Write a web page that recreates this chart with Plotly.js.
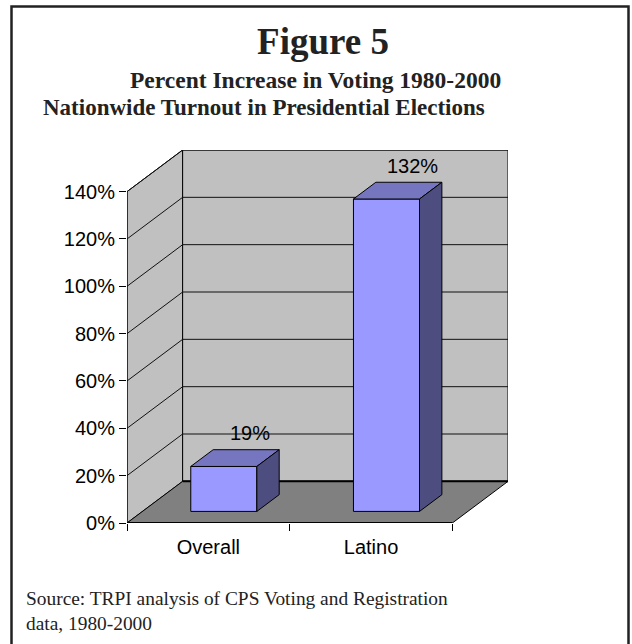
<!DOCTYPE html>
<html>
<head>
<meta charset="utf-8">
<script src="https://cdn.plot.ly/plotly-3.0.1.min.js"></script>
<style>
  html, body { margin: 0; padding: 0; background: #ffffff; }
  #chart { width: 632px; height: 644px; }
</style>
</head>
<body>
<div id="chart"></div>
<script>
// ---- data ----
const categories = ['Overall', 'Latino'];
const values = [19, 132];            // percent increase 1980-2000
const valueLabels = ['19%', '132%'];
const yTickValues = [0, 20, 40, 60, 80, 100, 120, 140];
const yTickText = ['0%', '20%', '40%', '60%', '80%', '100%', '120%', '140%'];
const yMax = 140;

// ---- 3D projection style (depth offsets in axis units) ----
const DEPTH_X = 0.342;   // horizontal depth shift, in category units
const DEPTH_Y = 17.6;    // vertical depth shift, in percent units
const BAR_W = 0.406;     // bar width, fraction of a category slot
const F0 = 0.278, F1 = 0.68; // bar front / back depth fractions

const n = categories.length;
const COLORS = {
  wall: '#c0c0c0', floor: '#808080', front: '#9999ff', top: '#7676c0', side: '#4d4d80',
  line: '#000000'
};

const M = { l: 127, r: 124, t: 150, b: 121 };
const FIG_W = 632, FIG_H = 644;
const PW = FIG_W - M.l - M.r, PH = FIG_H - M.t - M.b;
const paperX = px => (px - M.l) / PW;
const paperY = py => (FIG_H - M.b - py) / PH;

const traces = [];
function poly(pts, fill, lineColor, lineWidth) {
  const xs = pts.map(p => p[0]); xs.push(pts[0][0]);
  const ys = pts.map(p => p[1]); ys.push(pts[0][1]);
  traces.push({
    type: 'scatter', mode: 'lines', x: xs, y: ys,
    fill: 'toself', fillcolor: fill,
    line: { color: lineColor, width: lineWidth },
    hoverinfo: 'skip', showlegend: false
  });
}
function seg(x0, y0, x1, y1, color, width) {
  traces.push({
    type: 'scatter', mode: 'lines', x: [x0, x1], y: [y0, y1],
    line: { color: color, width: width }, hoverinfo: 'skip', showlegend: false
  });
}

const d = DEPTH_X, D = DEPTH_Y;
// side wall
poly([[0, 0], [d, D], [d, yMax + D], [0, yMax]], COLORS.wall, '#000', 1);
// back wall
poly([[d, D], [n + d, D], [n + d, yMax + D], [d, yMax + D]], COLORS.wall, '#000', 1);
// floor
poly([[0, 0], [n, 0], [n + d, D], [d, D]], COLORS.floor, '#000', 1);
// gridlines
yTickValues.forEach(v => {
  if (v === 0) return;
  seg(0, v, d, v + D, '#111', 1);
  seg(d, v + D, n + d, v + D, '#111', 1);
});
// floor edges & front axis line
seg(d, D, n + d, D, '#000', 2);
seg(0, 0, n, 0, '#000', 2);
seg(0, 0, 0, yMax, '#000', 1);

// bars
values.forEach((v, i) => {
  const xl = i + 0.5 - BAR_W / 2, xr = i + 0.5 + BAR_W / 2;
  const fx0 = F0 * d, fy0 = F0 * D, fx1 = F1 * d, fy1 = F1 * D;
  poly([[xl + fx0, fy0], [xr + fx0, fy0], [xr + fx0, v + fy0], [xl + fx0, v + fy0]], COLORS.front, '#000', 1);
  poly([[xl + fx0, v + fy0], [xr + fx0, v + fy0], [xr + fx1, v + fy1], [xl + fx1, v + fy1]], COLORS.top, '#000', 1);
  poly([[xr + fx0, fy0], [xr + fx1, fy1], [xr + fx1, v + fy1], [xr + fx0, v + fy0]], COLORS.side, '#000', 1);
});

const sansFont = { family: 'Liberation Sans, Arial, sans-serif', size: 20, color: '#000' };

const annotations = values.map((v, i) => ({
  x: i + 0.5 + F1 * d, y: v + D, xref: 'x', yref: 'y',
  text: valueLabels[i], showarrow: false, xanchor: 'center', yanchor: 'middle',
  xshift: 4, yshift: 3, font: sansFont
}));

annotations.push({
  xref: 'paper', yref: 'paper', x: paperX(315), y: paperY(80),
  text: 'Percent Increase in Voting 1980-2000', showarrow: false,
  xanchor: 'center', yanchor: 'middle',
  font: { family: 'Liberation Serif, serif', size: 23.5, color: '#222', weight: 'bold' }
});
annotations.push({
  xref: 'paper', yref: 'paper', x: paperX(264), y: paperY(108),
  text: 'Nationwide Turnout in Presidential Elections', showarrow: false,
  xanchor: 'center', yanchor: 'middle',
  font: { family: 'Liberation Serif, serif', size: 23, color: '#222', weight: 'bold' }
});
annotations.push({
  xref: 'paper', yref: 'paper', x: paperX(24), y: paperY(586),
  text: 'Source: TRPI analysis of CPS Voting and Registration<br>data, 1980-2000', showarrow: false,
  xanchor: 'left', yanchor: 'top', align: 'left',
  font: { family: 'Liberation Serif, serif', size: 19.4, color: '#222' }
});

const layout = {
  width: FIG_W, height: FIG_H,
  margin: M,
  paper_bgcolor: '#ffffff', plot_bgcolor: 'rgba(0,0,0,0)',
  showlegend: false,
  title: {
    text: 'Figure 5', x: 323 / FIG_W, xanchor: 'center', y: 1 - 41 / FIG_H, yanchor: 'middle',
    font: { family: 'Liberation Serif, serif', size: 37, color: '#222', weight: 'bold' }
  },
  xaxis: {
    range: [0, n + d], fixedrange: true,
    tickmode: 'array', tickvals: categories.map((c, i) => i + 0.5), ticktext: categories,
    ticks: '', showgrid: false, zeroline: false, showline: false,
    ticklabelstandoff: 10,
    tickfont: sansFont,
    minor: { tickmode: 'array', tickvals: categories.map((c, i) => i).concat([n]), ticks: 'outside', ticklen: 7, tickcolor: '#000', tickwidth: 1, showgrid: false }
  },
  yaxis: {
    range: [0, yMax + D], fixedrange: true,
    tickmode: 'array', tickvals: yTickValues, ticktext: yTickText,
    ticks: 'outside', ticklen: 7, tickcolor: '#000', tickwidth: 1,
    showgrid: false, zeroline: false, showline: false,
    tickfont: sansFont
  },
  annotations: annotations,
  shapes: [{
    type: 'rect', xref: 'paper', yref: 'paper',
    x0: paperX(11.5), x1: paperX(628.5), y0: paperY(6.5), y1: paperY(660),
    line: { color: '#222', width: 2.5 }, fillcolor: 'rgba(0,0,0,0)', layer: 'above'
  }]
};

Plotly.newPlot('chart', traces, layout, { displayModeBar: false, staticPlot: true });
</script>
</body>
</html>
